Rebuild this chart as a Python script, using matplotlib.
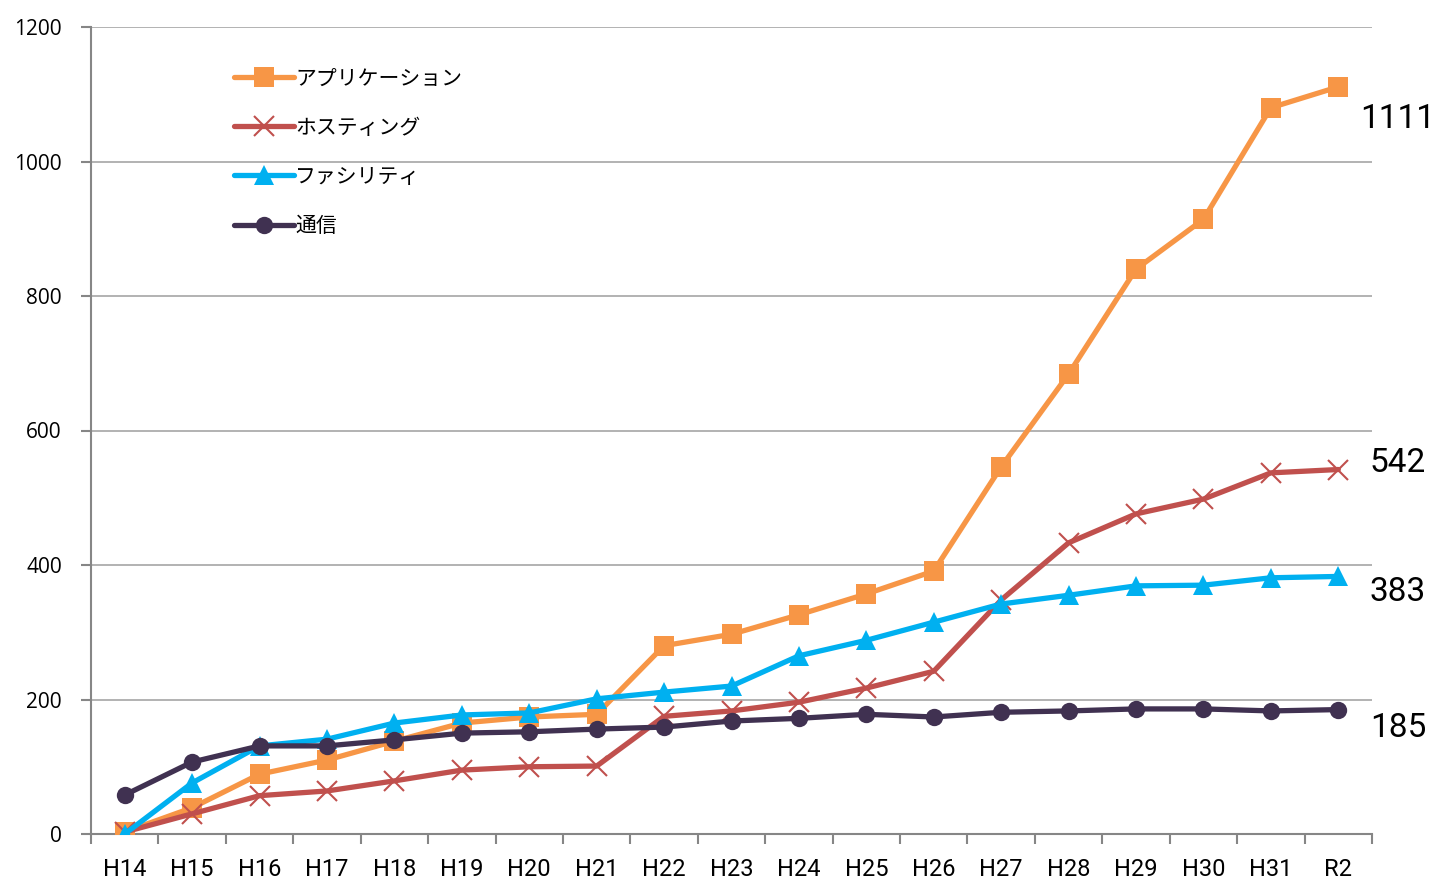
import matplotlib
matplotlib.use("Agg")
import matplotlib.pyplot as plt
import numpy as np

categories = ["H14", "H15", "H16", "H17", "H18", "H19", "H20", "H21", "H22", "H23",
              "H24", "H25", "H26", "H27", "H28", "H29", "H30", "H31", "R2"]
application = [3, 39, 89, 110, 138, 165, 174, 178, 280, 297, 326, 357, 391, 546, 684, 840, 914, 1080, 1111]
hosting = [3, 30, 57, 64, 79, 95, 100, 101, 175, 183, 196, 217, 242, 348, 433, 476, 498, 537, 542]
facility = [0, 76, 131, 141, 165, 177, 180, 201, 211, 220, 265, 288, 315, 342, 355, 369, 370, 381, 383]
tsushin = [58, 107, 131, 131, 140, 150, 152, 156, 159, 168, 172, 178, 174, 181, 183, 186, 186, 183, 185]
series_names = ["アプリケーション", "ホスティング", "ファシリティ", "通信"]
end_labels = ["1111", "542", "383", "185"]
yticks = [0, 200, 400, 600, 800, 1000, 1200]

plt.rcParams['font.family'] = ['Roboto', 'Noto Sans CJK JP', 'DejaVu Sans']

fig = plt.figure(figsize=(14.36, 8.81), dpi=100)
ax = fig.add_axes([91/1436, 47/881, (1372-91)/1436, (834-27)/881])

x = np.arange(len(categories))
styles = [
    dict(color="#F79646", marker="s", markersize=14, markeredgewidth=0),
    dict(color="#C0504D", marker="x", markersize=14, markeredgewidth=1.5),
    dict(color="#00B0F0", marker="^", markersize=14, markeredgewidth=0),
    dict(color="#403151", marker="o", markersize=12.5, markeredgewidth=0),
]
data = [application, hosting, facility, tsushin]
label_dy = [-23, 5, -11, -13]
for vals, name, st in zip(data, series_names, styles):
    ax.plot(x, vals, linewidth=3.8, label=name, solid_capstyle="round", zorder=3, **st)

for vals, lab, dy in zip(data, end_labels, label_dy):
    ax.annotate(lab, xy=(x[-1], vals[-1]), xytext=(43, dy), textcoords="offset points",
                fontsize=24, va="center", ha="center", annotation_clip=False,
                family=['Roboto', 'DejaVu Sans'])

ax.set_xlim(-0.5, len(categories) - 0.5)
ax.set_ylim(0, 1200)
ax.set_yticks(yticks)
ax.set_yticklabels([str(v) for v in yticks], fontsize=15, family=['Open Sans', 'DejaVu Sans'])
ax.set_xticks(x)
ax.set_xticklabels(categories, fontsize=17)
ax.set_xticks(np.arange(-0.5, len(categories), 1), minor=True)
ax.tick_params(axis="x", which="major", length=0, pad=17)
ax.tick_params(axis="x", which="minor", length=7, color="#868686", width=1.5, direction="out")
ax.tick_params(axis="y", length=7, color="#868686", width=1.5, direction="out", pad=14)
ax.grid(axis="y", color="#A6A6A6", linewidth=1.2, zorder=0)
for s in ["top", "right"]:
    ax.spines[s].set_visible(False)
for s in ["left", "bottom"]:
    ax.spines[s].set_color("#868686")
    ax.spines[s].set_linewidth(1.5)

leg = ax.legend(loc="upper left", bbox_to_anchor=(0.105, 0.96), frameon=False,
                prop={'family': ['Noto Sans CJK JP', 'DejaVu Sans'], 'size': 15},
                handlelength=2.9, handletextpad=0.05, labelspacing=1.3, borderaxespad=0)

fig.savefig("out.png", dpi=100)
